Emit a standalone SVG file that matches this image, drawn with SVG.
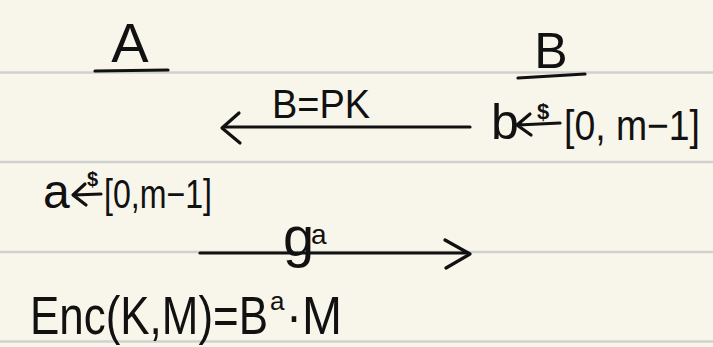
<svg xmlns="http://www.w3.org/2000/svg" width="713" height="347" viewBox="0 0 713 347">
<style>
.rule{stroke:#d0d0d0;stroke-width:2.5;fill:none}
.ink{stroke:#111;stroke-width:3.2;fill:none;stroke-linecap:round;stroke-linejoin:round}
.t{font-family:"Liberation Sans","DejaVu Sans",sans-serif;fill:#111}
</style>
<rect width="713" height="347" fill="#f8f6ea"/>
<g id="paper-rules">
<line class="rule" x1="0" y1="72.5" x2="713" y2="72.5"/>
<line class="rule" x1="0" y1="162" x2="713" y2="162"/>
<line class="rule" x1="0" y1="252" x2="713" y2="252"/>
<line class="rule" x1="0" y1="341.5" x2="713" y2="341.5"/>
</g>
<g id="party-A">
<text class="t" x="130" y="62" font-size="56" text-anchor="middle">A</text>
<path class="ink" d="M95,71 L168,70"/>
</g>
<g id="party-B">
<text class="t" x="551" y="68" font-size="50" text-anchor="middle">B</text>
<path class="ink" d="M518,78 L585,74"/>
</g>
<g id="label-B-PK">
<text class="t" x="272" y="118" font-size="40" textLength="98" lengthAdjust="spacingAndGlyphs">B=PK</text>
</g>
<g id="b-sample">
<text class="t" x="491" y="139" font-size="50">b</text>
<path class="ink" d="M530,114 L517,125 L531,135 M518,125 L560,123"/>
<text class="t" x="537" y="119" font-size="22" font-weight="bold">$</text>
<text class="t" x="564" y="140" font-size="42" textLength="136" lengthAdjust="spacingAndGlyphs">[0, m−1]</text>
</g>
<g id="a-sample">
<text class="t" x="43" y="208" font-size="48">a</text>
<path class="ink" d="M85,184 L73,195 L86,205 M74,195 L101,194"/>
<text class="t" x="87" y="186" font-size="20" font-weight="bold">$</text>
<text class="t" x="104" y="208" font-size="40" textLength="108" lengthAdjust="spacingAndGlyphs">[0,m−1]</text>
</g>
<g id="label-g-a">
<text class="t" x="283" y="256" font-size="56">g</text>
<text class="t" x="311" y="244" font-size="28">a</text>
</g>
<g id="enc">
<text class="t" x="30" y="334" font-size="54" textLength="238" lengthAdjust="spacingAndGlyphs">Enc(K,M)=B</text>
<text class="t" x="270" y="310" font-size="26">a</text>
<text class="t" x="286" y="334" font-size="54" textLength="56" lengthAdjust="spacingAndGlyphs">·M</text>
</g>
<g id="connectors">
<path class="ink" d="M470,127 L224,127"/>
<path class="ink" d="M239,113 L222,128 L240,143"/>
<path class="ink" d="M200,253 L468,253"/>
<path class="ink" d="M445,240 L470,254 L446,268"/>
</g>
</svg>
